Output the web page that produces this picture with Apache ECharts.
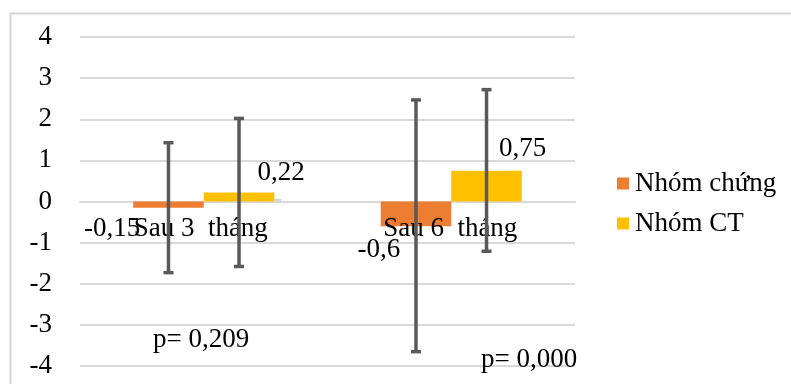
<!DOCTYPE html>
<html>
<head>
<meta charset="utf-8">
<script src="https://cdn.jsdelivr.net/npm/echarts@6/dist/echarts.min.js"></script>
<style>html,body{margin:0;padding:0;background:#fff;}#c{width:791px;height:384px;}</style>
</head>
<body>
<div id="c"></div>
<script>
var categories = ['Sau 3  tháng', 'Sau 6  tháng'];
var seriesNames = ['Nhóm chứng', 'Nhóm CT'];
var controlValues = [-0.15, -0.6];
var ctValues = [0.22, 0.75];
var controlLow = [-1.73, -3.65];
var controlHigh = [1.43, 2.47];
var ctLow = [-1.58, -1.21];
var ctHigh = [2.02, 2.72];
var pValues = ['p= 0,209', 'p= 0,000'];
var yTicks = [-4, -3, -2, -1, 0, 1, 2, 3, 4];

var FONT = 'Liberation Serif';
var FS = 27;
var GAP = 0.43;

function fmt(v) { return String(v).replace('.', ','); }

function errorData(low, high) {
  return low.map(function (l, i) { return [i, l, high[i]]; });
}

function errRender(side) {
  return function (params, api) {
    var band = api.size([1, 0])[0];
    var bw = band * (1 - GAP) / 2;
    var off = side * bw / 2;
    var c = api.value(0);
    var lo = api.coord([c, api.value(1)]);
    var hi = api.coord([c, api.value(2)]);
    var x = lo[0] + off;
    var cap = 5;
    var st = { stroke: '#595959', lineWidth: 3.5 };
    return {
      type: 'group',
      children: [
        { type: 'line', shape: { x1: x, y1: hi[1], x2: x, y2: lo[1] }, style: st },
        { type: 'line', shape: { x1: x - cap, y1: hi[1], x2: x + cap, y2: hi[1] }, style: st },
        { type: 'line', shape: { x1: x - cap, y1: lo[1], x2: x + cap, y2: lo[1] }, style: st }
      ]
    };
  };
}

var catShift = [-3, -1];
function catLabelRender(params, api) {
  var i = api.value(0);
  var p = api.coord([i, 0]);
  return {
    type: 'text',
    x: p[0] + catShift[i],
    y: p[1] + 27,
    style: { text: categories[i], fontFamily: FONT, fontSize: FS, fill: '#000', align: 'center', verticalAlign: 'middle' },
    z2: 1
  };
}

var labelBase = { show: true, fontFamily: FONT, fontSize: FS, color: '#000', formatter: function (p) { return fmt(p.value); } };
var leader = { show: true, lineStyle: { color: '#a6a6a6', width: 1 } };

var chart = echarts.init(document.getElementById('c'), null, { renderer: 'canvas' });
chart.setOption({
  animation: false,
  backgroundColor: '#fff',
  grid: { left: 80, right: 216, top: 37, bottom: 18, containLabel: false, outerBoundsMode: 'none' },
  legend: {
    orient: 'vertical',
    left: 612,
    top: 165,
    itemWidth: 12,
    itemHeight: 12,
    itemGap: 13,
    icon: 'rect',
    textStyle: { fontFamily: FONT, fontSize: FS, color: '#000', padding: [0, 0, 0, 1] },
    data: seriesNames
  },
  xAxis: {
    type: 'category',
    data: categories,
    axisLine: { show: true, onZero: true, lineStyle: { color: '#d9d9d9', width: 2 } },
    axisTick: { show: false },
    axisLabel: { show: false },
    splitLine: { show: false },
    z: 1
  },
  yAxis: {
    type: 'value',
    min: yTicks[0],
    max: yTicks[yTicks.length - 1],
    interval: 1,
    axisLine: { show: false },
    axisTick: { show: false },
    axisLabel: { fontFamily: FONT, fontSize: FS, color: '#000', margin: 28 },
    splitLine: { lineStyle: { color: '#d9d9d9', width: 2 } }
  },
  graphic: [
    { type: 'rect', left: 8, top: 11, shape: { width: 900, height: 500 }, style: { fill: 'none', stroke: '#d6d6d6', lineWidth: 2 }, silent: true, z: -10 },
    { type: 'text', left: 153, top: 326, style: { text: pValues[0], fontFamily: FONT, fontSize: FS, fill: '#000' }, z: 10 },
    { type: 'text', left: 481, top: 346, style: { text: pValues[1], fontFamily: FONT, fontSize: FS, fill: '#000' }, z: 10 }
  ],
  series: [
    {
      name: seriesNames[0],
      type: 'bar',
      barGap: '0%',
      barCategoryGap: (GAP * 100) + '%',
      itemStyle: { color: '#ED7D31' },
      data: [
        { value: controlValues[0], label: Object.assign({}, labelBase, { position: 'left', offset: [12, 24] }), labelLine: leader },
        { value: controlValues[1], label: Object.assign({}, labelBase, { position: 'bottom', offset: [-37, 5] }) }
      ],
      z: 2
    },
    {
      name: seriesNames[1],
      type: 'bar',
      barGap: '0%',
      barCategoryGap: (GAP * 100) + '%',
      itemStyle: { color: '#FFC000' },
      data: [
        { value: ctValues[0], label: Object.assign({}, labelBase, { position: 'top', offset: [42, -1] }), labelLine: leader },
        { value: ctValues[1], label: Object.assign({}, labelBase, { position: 'top', offset: [36, -3] }) }
      ],
      z: 2
    },
    {
      type: 'custom',
      name: 'catLabels',
      renderItem: catLabelRender,
      data: categories.map(function (c, i) { return [i]; }),
      encode: { x: 0 },
      silent: true,
      z: 3
    },
    {
      type: 'custom',
      name: 'errControl',
      renderItem: errRender(-1),
      data: errorData(controlLow, controlHigh),
      encode: { x: 0, y: [1, 2] },
      z: 5
    },
    {
      type: 'custom',
      name: 'errCT',
      renderItem: errRender(1),
      data: errorData(ctLow, ctHigh),
      encode: { x: 0, y: [1, 2] },
      z: 5
    }
  ]
});
</script>
</body>
</html>
